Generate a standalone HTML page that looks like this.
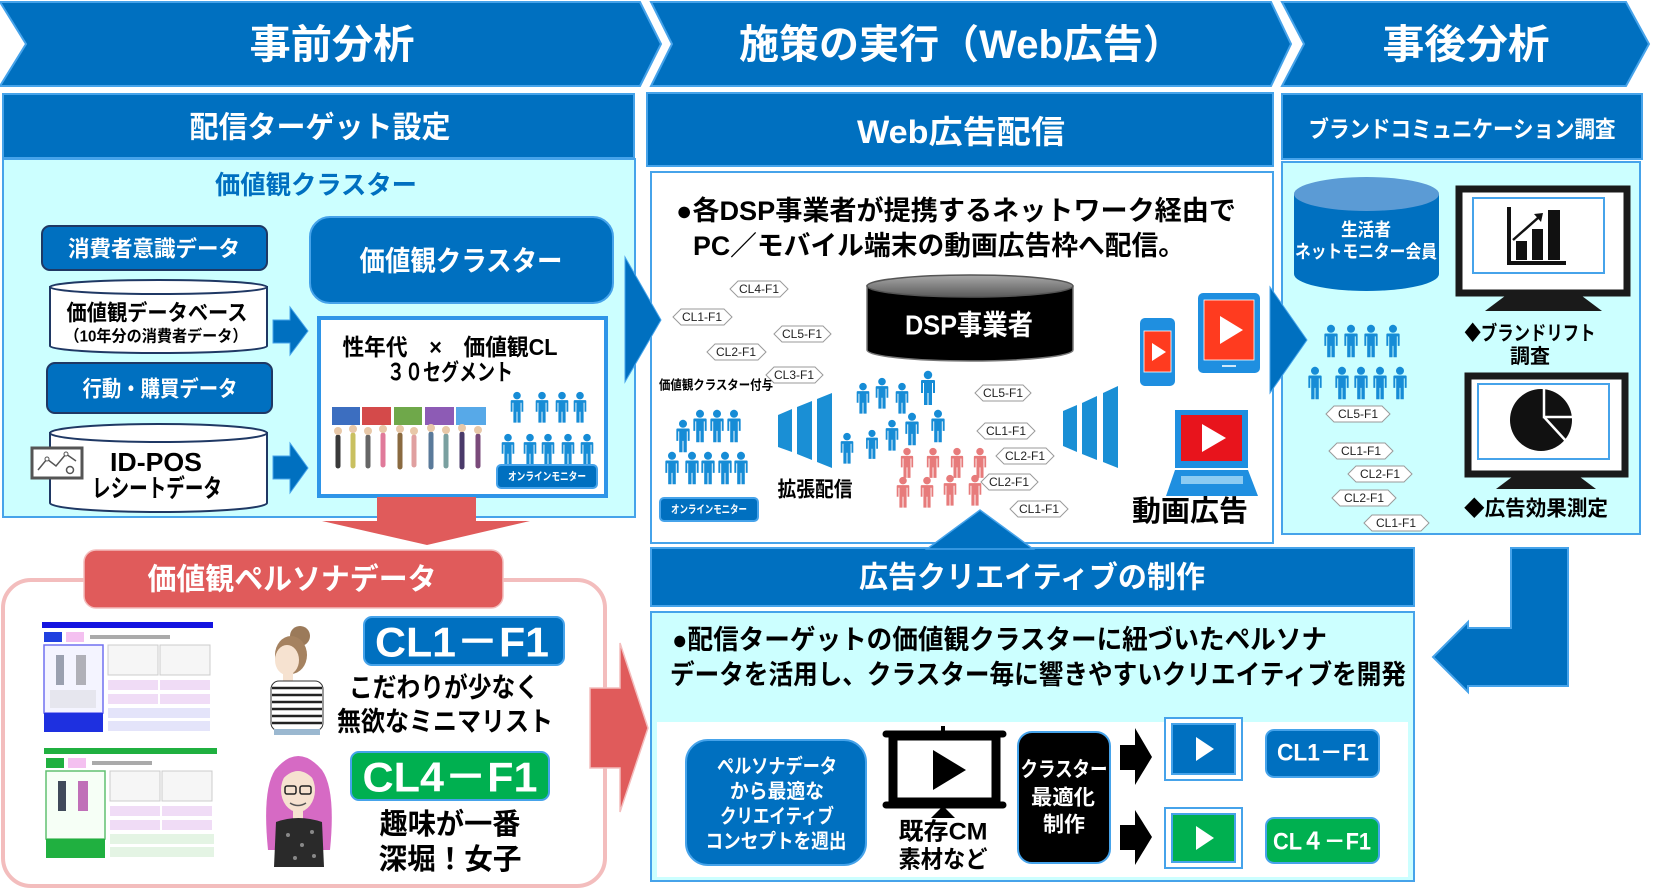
<!DOCTYPE html>
<html><head><meta charset="utf-8">
<style>
html,body{margin:0;padding:0;background:#fff;}
svg{display:block;}
text{font-family:"Liberation Sans","Noto Sans CJK JP",sans-serif;font-weight:bold;}
.t{font-weight:normal;font-size:12px;fill:#222;}
</style></head><body>
<svg width="1653" height="895" viewBox="0 0 1653 895" xmlns="http://www.w3.org/2000/svg">
<defs>
<path id="p" d="M-6,9 h12 a1,1 0 0 1 1,1 v12 h-2 v-10 h-1 v22 h-3.5 v-12 h-1 v12 h-3.5 v-22 h-1 v10 h-2 v-12 a1,1 0 0 1 1,-1 z M0,-0.2 a4.2,4.2 0 1 1 -0.01,0 z"/>
<linearGradient id="dg" x1="0" y1="0" x2="0" y2="1"><stop offset="0" stop-color="#a8a8a8"/><stop offset="1" stop-color="#5a5a5a"/></linearGradient>
</defs>

<!-- chevrons -->
<g fill="#0070C0" stroke="#46A3EA" stroke-width="2">
<polygon points="0,2 640,2 661,44 640,86 0,86 26,44"/>
<polygon points="651,2 1271,2 1291,44 1271,86 651,86 672,44"/>
<polygon points="1282,2 1626,2 1649,44 1626,86 1282,86 1304,44"/>
</g>
<g fill="#fff" font-size="40" text-anchor="middle" dominant-baseline="central">
<text x="332" y="45" textLength="165" lengthAdjust="spacingAndGlyphs">事前分析</text>
<text x="961" y="45" textLength="444" lengthAdjust="spacingAndGlyphs">施策の実行（Web広告）</text>
<text x="1466" y="45" textLength="167" lengthAdjust="spacingAndGlyphs">事後分析</text>
</g>

<!-- headers and panels -->
<g stroke="#46A3EA" stroke-width="2">
<rect x="3" y="94" width="631" height="64" fill="#0070C0"/>
<rect x="3" y="159" width="632" height="358" fill="#CCFFFF"/>
<rect x="647" y="93" width="626" height="73" fill="#0070C0"/>
<rect x="651" y="172" width="622" height="371" fill="#fff"/>
<rect x="1282" y="94" width="360" height="65" fill="#0070C0"/>
<rect x="1282" y="162" width="358" height="372" fill="#CCFFFF"/>
<rect x="651" y="548" width="763" height="58" fill="#0070C0"/>
<rect x="651" y="612" width="763" height="269" fill="#CCFFFF"/>
</g>
<rect x="657" y="722" width="751" height="155" fill="#fff"/>

<g fill="#fff" text-anchor="middle" dominant-baseline="central">
<text x="320" y="128" font-size="30" textLength="261" lengthAdjust="spacingAndGlyphs">配信ターゲット設定</text>
<text x="961" y="132" font-size="32" textLength="208" lengthAdjust="spacingAndGlyphs">Web広告配信</text>
<text x="1462" y="129" font-size="23" textLength="307" lengthAdjust="spacingAndGlyphs">ブランドコミュニケーション調査</text>
<text x="1032" y="578" font-size="30" textLength="346" lengthAdjust="spacingAndGlyphs">広告クリエイティブの制作</text>
</g>

<!-- LEFT PANEL -->
<text x="316" y="185" font-size="26" fill="#0070C0" text-anchor="middle" dominant-baseline="central" textLength="202" lengthAdjust="spacingAndGlyphs">価値観クラスター</text>
<rect x="42" y="226" width="225" height="44" rx="8" fill="#0070C0" stroke="#1F3864" stroke-width="2"/>
<text x="154" y="249" font-size="22" fill="#fff" text-anchor="middle" dominant-baseline="central" textLength="172" lengthAdjust="spacingAndGlyphs">消費者意識データ</text>
<path d="M50,287 V346 A108.5,7 0 0 0 267,346 V287 Z" fill="#fff" stroke="#1F3864" stroke-width="2"/>
<ellipse cx="158.5" cy="287" rx="108.5" ry="7" fill="#fff" stroke="#1F3864" stroke-width="2"/>
<text x="157" y="313" font-size="22" fill="#000" text-anchor="middle" dominant-baseline="central" textLength="181" lengthAdjust="spacingAndGlyphs">価値観データベース</text>
<text x="156" y="337" font-size="16" fill="#000" text-anchor="middle" dominant-baseline="central" textLength="183" lengthAdjust="spacingAndGlyphs">（10年分の消費者データ）</text>
<rect x="47" y="363" width="225" height="50" rx="8" fill="#0070C0" stroke="#1F3864" stroke-width="2"/>
<text x="160" y="389" font-size="22" fill="#fff" text-anchor="middle" dominant-baseline="central" textLength="155" lengthAdjust="spacingAndGlyphs">行動・購買データ</text>
<path d="M50,433 V503 A108.5,9 0 0 0 267,503 V433 Z" fill="#fff" stroke="#1F3864" stroke-width="2"/>
<ellipse cx="158.5" cy="433" rx="108.5" ry="9" fill="#fff" stroke="#1F3864" stroke-width="2"/>
<text x="156" y="462" font-size="26" fill="#000" text-anchor="middle" dominant-baseline="central" textLength="92" lengthAdjust="spacingAndGlyphs">ID-POS</text>
<text x="157" y="489" font-size="25" fill="#000" text-anchor="middle" dominant-baseline="central" textLength="130" lengthAdjust="spacingAndGlyphs">レシートデータ</text>
<!-- idpos icon -->
<rect x="32" y="448" width="50" height="30" fill="#fff" stroke="#555" stroke-width="3"/>
<polyline points="38,470 47,459 56,466 66,454 76,461" fill="none" stroke="#555" stroke-width="1.5"/>
<circle cx="47" cy="459" r="2" fill="#fff" stroke="#555"/><circle cx="66" cy="454" r="2" fill="#fff" stroke="#555"/>
<circle cx="70" cy="470" r="3.5" fill="none" stroke="#555" stroke-width="1.5"/>
<!-- small arrows -->
<g fill="#0070C0" stroke="#46A3EA" stroke-width="1">
<polygon points="273,320 290,320 290,307 308,331 290,355 290,343 273,343"/>
<polygon points="273,456 290,456 290,443 308,468 290,493 290,479 273,479"/>
</g>
<rect x="310" y="217" width="303" height="86" rx="20" fill="#0070C0" stroke="#46A3EA" stroke-width="2"/>
<text x="461" y="261" font-size="28" fill="#fff" text-anchor="middle" dominant-baseline="central" textLength="203" lengthAdjust="spacingAndGlyphs">価値観クラスター</text>
<rect x="319" y="318" width="287" height="178" fill="#fff" stroke="#2E95E8" stroke-width="4"/>
<text x="450" y="347" font-size="23" fill="#000" text-anchor="middle" dominant-baseline="central" textLength="215" lengthAdjust="spacingAndGlyphs">性年代　×　価値観CL</text>
<text x="450" y="372" font-size="23" fill="#000" text-anchor="middle" dominant-baseline="central" textLength="126" lengthAdjust="spacingAndGlyphs">３０セグメント</text>
<!-- cluster images -->
<rect x="332" y="407" width="28" height="18" fill="#3C6EC0"/>
<rect x="362" y="407" width="29" height="18" fill="#D44A4A"/>
<rect x="394" y="407" width="28" height="18" fill="#6FA84A"/>
<rect x="425" y="407" width="29" height="18" fill="#8D5BB5"/>
<rect x="456" y="407" width="30" height="18" fill="#57A9E8"/>
<g stroke-linecap="round">
<g stroke-width="5">
<line x1="338" y1="437" x2="338" y2="466" stroke="#3a3a3a"/><line x1="353" y1="435" x2="353" y2="466" stroke="#c9c060"/>
<line x1="368" y1="437" x2="368" y2="466" stroke="#666"/><line x1="383" y1="435" x2="383" y2="465" stroke="#e07a9a"/>
<line x1="400" y1="435" x2="400" y2="467" stroke="#8a6a40"/><line x1="414" y1="437" x2="414" y2="465" stroke="#e0a0a0"/>
<line x1="431" y1="434" x2="431" y2="467" stroke="#5a7a9a"/><line x1="446" y1="436" x2="446" y2="466" stroke="#7aa0a0"/>
<line x1="462" y1="434" x2="462" y2="467" stroke="#4a3a6a"/><line x1="478" y1="436" x2="478" y2="466" stroke="#7a4a7a"/>
</g>
<g fill="#e8c8a8"><circle cx="338" cy="431" r="4"/><circle cx="353" cy="429" r="4"/><circle cx="368" cy="431" r="4"/><circle cx="383" cy="429" r="4"/><circle cx="400" cy="429" r="4"/><circle cx="414" cy="431" r="4"/><circle cx="431" cy="428" r="4"/><circle cx="446" cy="430" r="4"/><circle cx="462" cy="428" r="4"/><circle cx="478" cy="430" r="4"/></g>
</g>
<g fill="#168CD6">
<use href="#p" transform="translate(517,392) scale(0.9)"/><use href="#p" transform="translate(542,392) scale(0.9)"/><use href="#p" transform="translate(562,392) scale(0.9)"/><use href="#p" transform="translate(580,392) scale(0.9)"/>
<use href="#p" transform="translate(508,434) scale(0.9)"/><use href="#p" transform="translate(530,434) scale(0.9)"/><use href="#p" transform="translate(548,434) scale(0.9)"/><use href="#p" transform="translate(568,434) scale(0.9)"/><use href="#p" transform="translate(587,434) scale(0.9)"/>
</g>
<rect x="497" y="465" width="100" height="23" rx="4" fill="#0070C0" stroke="#46A3EA" stroke-width="2"/>
<text x="547" y="477" font-size="11" fill="#fff" text-anchor="middle" dominant-baseline="central" textLength="78" lengthAdjust="spacingAndGlyphs">オンラインモニター</text>

<!-- big arrows -->
<polygon points="625,257 625,382 661,320" fill="#0070C0" stroke="#46A3EA" stroke-width="1"/>
<polygon points="1270,287 1270,393 1307,340" fill="#0070C0" stroke="#46A3EA" stroke-width="1"/>

<!-- red arrows -->
<polygon points="377,497 476,497 476,521 530,521 427,545 322,521 377,521" fill="#E05B5B"/>

<!-- BOTTOM LEFT -->
<rect x="3" y="580" width="602" height="306" rx="28" fill="#fff" stroke="#F3BDBD" stroke-width="4"/>
<rect x="84" y="550" width="419" height="58" rx="12" fill="#E05B5B" stroke="#F3BDBD" stroke-width="1.5"/>
<text x="292" y="580" font-size="30" fill="#fff" text-anchor="middle" dominant-baseline="central" textLength="289" lengthAdjust="spacingAndGlyphs">価値観ペルソナデータ</text>
<polygon points="590,688 620,688 620,643 648,728 620,812 620,768 590,768" fill="#E05B5B" stroke="#F3BDBD" stroke-width="1.5"/>
<!-- doc 1 -->
<rect x="42" y="622" width="171" height="110" fill="#fff"/>
<rect x="42" y="622" width="171" height="6" fill="#1414E0"/>
<rect x="44" y="632" width="18" height="10" fill="#2040E0"/><rect x="66" y="632" width="18" height="10" fill="#F4C0F0"/>
<rect x="90" y="635" width="80" height="4" fill="#aaa"/>
<rect x="44" y="645" width="59" height="68" fill="#F4F4FF" stroke="#7070F0" stroke-width="1.5"/>
<rect x="56" y="655" width="8" height="30" fill="#9aa0b0"/><rect x="76" y="655" width="10" height="30" fill="#b0b0b8"/>
<rect x="50" y="690" width="46" height="18" fill="#e6e6ee"/>
<rect x="44" y="713" width="59" height="19" fill="#1E30E0"/>
<rect x="108" y="645" width="50" height="30" fill="#f6f6f6" stroke="#ccc"/><rect x="160" y="645" width="50" height="30" fill="#f6f6f6" stroke="#ccc"/>
<rect x="108" y="680" width="50" height="10" fill="#F0DCF6"/><rect x="160" y="680" width="50" height="10" fill="#F0DCF6"/>
<rect x="108" y="694" width="50" height="10" fill="#F0DCF6"/><rect x="160" y="694" width="50" height="10" fill="#F0DCF6"/>
<rect x="108" y="708" width="102" height="10" fill="#E4E4FA"/><rect x="108" y="721" width="102" height="10" fill="#E4E4FA"/>
<!-- doc 2 -->
<rect x="44" y="748" width="173" height="110" fill="#fff"/>
<rect x="44" y="748" width="173" height="6" fill="#20B040"/>
<rect x="46" y="758" width="18" height="10" fill="#20B040"/><rect x="68" y="758" width="18" height="10" fill="#F4C0F0"/>
<rect x="92" y="761" width="60" height="4" fill="#aaa"/>
<rect x="46" y="771" width="59" height="68" fill="#F6FFF6" stroke="#60C070" stroke-width="1.5"/>
<rect x="58" y="781" width="8" height="30" fill="#404a5a"/><rect x="78" y="781" width="10" height="30" fill="#c070b8"/>
<rect x="46" y="839" width="59" height="19" fill="#20B040"/>
<rect x="110" y="771" width="50" height="30" fill="#f6f6f6" stroke="#ccc"/><rect x="162" y="771" width="50" height="30" fill="#f6f6f6" stroke="#ccc"/>
<rect x="110" y="806" width="50" height="10" fill="#F0DCF6"/><rect x="162" y="806" width="50" height="10" fill="#F0DCF6"/>
<rect x="110" y="820" width="50" height="10" fill="#F0DCF6"/><rect x="162" y="820" width="50" height="10" fill="#F0DCF6"/>
<rect x="110" y="834" width="104" height="10" fill="#E4F4E4"/><rect x="110" y="847" width="104" height="10" fill="#E4F4E4"/>
<!-- woman 1 -->
<circle cx="300" cy="636" r="10" fill="#9B7A5A"/>
<ellipse cx="291" cy="655" rx="16" ry="19" fill="#A58260"/>
<ellipse cx="287" cy="660" rx="12" ry="15" fill="#F6E2D0"/>
<rect x="283" y="672" width="10" height="10" fill="#F6E2D0"/>
<rect x="271" y="681" width="52" height="50" rx="8" fill="#fff" stroke="#333" stroke-width="1"/>
<g stroke="#222" stroke-width="2.5"><line x1="272" y1="688" x2="322" y2="688"/><line x1="272" y1="695" x2="322" y2="695"/><line x1="272" y1="702" x2="322" y2="702"/><line x1="272" y1="709" x2="322" y2="709"/><line x1="272" y1="716" x2="322" y2="716"/><line x1="272" y1="723" x2="322" y2="723"/></g>
<rect x="274" y="729" width="46" height="6" fill="#9bb8d0"/>
<!-- woman 2 -->
<path d="M268,850 Q262,790 275,770 Q298,742 322,770 Q336,790 330,850 Z" fill="#D66AC4"/>
<ellipse cx="298" cy="790" rx="17" ry="22" fill="#F6E2D0"/>
<path d="M280,782 Q298,760 316,782 L316,770 Q298,752 280,770 Z" fill="#D66AC4"/>
<g fill="none" stroke="#222" stroke-width="1.5"><rect x="285" y="786" width="11" height="8" rx="2"/><rect x="300" y="786" width="11" height="8" rx="2"/></g>
<path d="M290,803 Q298,808 306,803" fill="none" stroke="#555" stroke-width="1.5"/>
<rect x="293" y="810" width="10" height="10" fill="#F6E2D0"/>
<path d="M276,822 Q298,814 322,822 L324,867 L274,867 Z" fill="#2a2a2a"/>
<g fill="#888"><circle cx="288" cy="835" r="2"/><circle cx="302" cy="845" r="2"/><circle cx="312" cy="832" r="2"/><circle cx="295" cy="858" r="2"/><circle cx="314" cy="856" r="2"/></g>
<!-- persona labels -->
<rect x="364" y="617" width="200" height="48" rx="8" fill="#0070C0" stroke="#46A3EA" stroke-width="2"/>
<text x="462" y="642" font-size="42" fill="#fff" text-anchor="middle" dominant-baseline="central" textLength="174" lengthAdjust="spacingAndGlyphs">CL1－F1</text>
<text x="444" y="688" font-size="27" fill="#000" text-anchor="middle" dominant-baseline="central" textLength="190" lengthAdjust="spacingAndGlyphs">こだわりが少なく</text>
<text x="445" y="722" font-size="27" fill="#000" text-anchor="middle" dominant-baseline="central" textLength="216" lengthAdjust="spacingAndGlyphs">無欲なミニマリスト</text>
<rect x="351" y="752" width="198" height="48" rx="8" fill="#00B050" stroke="#46A3EA" stroke-width="2"/>
<text x="450" y="777" font-size="42" fill="#fff" text-anchor="middle" dominant-baseline="central" textLength="175" lengthAdjust="spacingAndGlyphs">CL4－F1</text>
<text x="450" y="825" font-size="29" fill="#000" text-anchor="middle" dominant-baseline="central" textLength="141" lengthAdjust="spacingAndGlyphs">趣味が一番</text>
<text x="450" y="860" font-size="29" fill="#000" text-anchor="middle" dominant-baseline="central" textLength="143" lengthAdjust="spacingAndGlyphs">深堀！女子</text>

<!-- MIDDLE PANEL -->
<text x="676" y="211" font-size="27" fill="#000" dominant-baseline="central" textLength="560" lengthAdjust="spacingAndGlyphs">●各DSP事業者が提携するネットワーク経由で</text>
<text x="693" y="246" font-size="27" fill="#000" dominant-baseline="central" textLength="492" lengthAdjust="spacingAndGlyphs">PC／モバイル端末の動画広告枠へ配信。</text>
<!-- DSP cylinder -->
<path d="M867,286 V350 A103,11 0 0 0 1073,350 V286 Z" fill="#000" stroke="#777" stroke-width="1.5"/>
<ellipse cx="970" cy="286" rx="103" ry="11" fill="url(#dg)" stroke="#555" stroke-width="1.5"/>
<text x="969" y="325" font-size="28" fill="#fff" text-anchor="middle" dominant-baseline="central" textLength="128" lengthAdjust="spacingAndGlyphs">DSP事業者</text>
<!-- tags -->
<g fill="#fff" stroke="#9a9a9a" stroke-width="1">
<polygon points="730,289 738,281 780,281 788,289 780,297 738,297"/>
<polygon points="673,317 681,309 724,309 732,317 724,325 681,325"/>
<polygon points="774,334 782,326 823,326 831,334 823,342 782,342"/>
<polygon points="707,352 715,344 758,344 766,352 758,360 715,360"/>
<polygon points="766,375 774,367 815,367 823,375 815,383 774,383"/>
<polygon points="975,393 983,385 1023,385 1031,393 1023,401 983,401"/>
<polygon points="977,431 985,423 1027,423 1035,431 1027,439 985,439"/>
<polygon points="996,456 1004,448 1046,448 1054,456 1046,464 1004,464"/>
<polygon points="981,482 989,474 1030,474 1038,482 1030,490 989,490"/>
<polygon points="1010,509 1018,501 1060,501 1068,509 1060,517 1018,517"/>
<polygon points="1326,414 1334,406 1382,406 1390,414 1382,422 1334,422"/>
<polygon points="1329,451 1337,443 1385,443 1393,451 1385,459 1337,459"/>
<polygon points="1348,474 1356,466 1404,466 1412,474 1404,482 1356,482"/>
<polygon points="1332,498 1340,490 1388,490 1396,498 1388,506 1340,506"/>
<polygon points="1364,523 1372,515 1421,515 1429,523 1421,531 1372,531"/>
</g>
<g text-anchor="middle" dominant-baseline="central">
<text class="t" x="759" y="289">CL4-F1</text>
<text class="t" x="702" y="317">CL1-F1</text>
<text class="t" x="802" y="334">CL5-F1</text>
<text class="t" x="736" y="352">CL2-F1</text>
<text class="t" x="794" y="375">CL3-F1</text>
<text class="t" x="1003" y="393">CL5-F1</text>
<text class="t" x="1006" y="431">CL1-F1</text>
<text class="t" x="1025" y="456">CL2-F1</text>
<text class="t" x="1009" y="482">CL2-F1</text>
<text class="t" x="1039" y="509">CL1-F1</text>
<text class="t" x="1358" y="414">CL5-F1</text>
<text class="t" x="1361" y="451">CL1-F1</text>
<text class="t" x="1380" y="474">CL2-F1</text>
<text class="t" x="1364" y="498">CL2-F1</text>
<text class="t" x="1396" y="523">CL1-F1</text>
</g>
<text x="716" y="385" font-size="13" fill="#000" text-anchor="middle" dominant-baseline="central" textLength="114" lengthAdjust="spacingAndGlyphs">価値観クラスター付与</text>
<!-- people -->
<g fill="#168CD6">
<use href="#p" transform="translate(683,420) scale(0.95)"/><use href="#p" transform="translate(700,410) scale(0.95)"/><use href="#p" transform="translate(717,410) scale(0.95)"/><use href="#p" transform="translate(734,410) scale(0.95)"/>
<use href="#p" transform="translate(672,452) scale(0.95)"/><use href="#p" transform="translate(692,452) scale(0.95)"/><use href="#p" transform="translate(708,452) scale(0.95)"/><use href="#p" transform="translate(725,452) scale(0.95)"/><use href="#p" transform="translate(741,452) scale(0.95)"/>
<use href="#p" transform="translate(863,383) scale(0.9)"/><use href="#p" transform="translate(882,378) scale(0.9)"/><use href="#p" transform="translate(902,383) scale(0.9)"/><use href="#p" transform="translate(928,371) scale(1.0)"/>
<use href="#p" transform="translate(847,433) scale(0.9)"/><use href="#p" transform="translate(872,430) scale(0.85)"/><use href="#p" transform="translate(892,420) scale(0.9)"/><use href="#p" transform="translate(912,413) scale(0.95)"/><use href="#p" transform="translate(938,410) scale(0.95)"/>
<use href="#p" transform="translate(1331,325) scale(0.95)"/><use href="#p" transform="translate(1351,325) scale(0.95)"/><use href="#p" transform="translate(1371,325) scale(0.95)"/><use href="#p" transform="translate(1393,325) scale(0.95)"/>
<use href="#p" transform="translate(1315,367) scale(0.95)"/><use href="#p" transform="translate(1342,367) scale(0.95)"/><use href="#p" transform="translate(1361,367) scale(0.95)"/><use href="#p" transform="translate(1380,367) scale(0.95)"/><use href="#p" transform="translate(1400,367) scale(0.95)"/>
</g>
<g fill="#E77B7B">
<use href="#p" transform="translate(907,448) scale(0.88)"/><use href="#p" transform="translate(933,448) scale(0.88)"/><use href="#p" transform="translate(957,448) scale(0.88)"/><use href="#p" transform="translate(980,448) scale(0.88)"/>
<use href="#p" transform="translate(903,477) scale(0.9)"/><use href="#p" transform="translate(927,477) scale(0.9)"/><use href="#p" transform="translate(950,475) scale(0.9)"/><use href="#p" transform="translate(975,475) scale(0.9)"/>
</g>
<rect x="660" y="498" width="98" height="23" rx="4" fill="#0070C0" stroke="#46A3EA" stroke-width="2"/>
<text x="709" y="510" font-size="11" fill="#fff" text-anchor="middle" dominant-baseline="central" textLength="76" lengthAdjust="spacingAndGlyphs">オンラインモニター</text>
<!-- speakers -->
<g fill="#1A8FD5">
<polygon points="778,415 792,409 792,452 778,447"/>
<polygon points="797,407 812,401 812,460 797,454"/>
<polygon points="817,399 832,393 832,468 817,462"/>
<polygon points="1063,411 1077,405 1077,452 1063,446"/>
<polygon points="1082,403 1097,396 1097,460 1082,454"/>
<polygon points="1103,393 1118,386 1118,468 1103,462"/>
</g>
<text x="815" y="490" font-size="21" fill="#000" text-anchor="middle" dominant-baseline="central" textLength="75" lengthAdjust="spacingAndGlyphs">拡張配信</text>
<!-- devices -->
<rect x="1140" y="318" width="35" height="68" rx="5" fill="#1F8FE0"/>
<rect x="1144" y="331" width="27" height="41" fill="#FF3B1F" stroke="#fff" stroke-width="0.8"/>
<polygon points="1152,343 1152,361 1166,352" fill="#fff"/>
<rect x="1198" y="293" width="62" height="80" rx="5" fill="#1F8FE0"/>
<rect x="1204" y="300" width="50" height="60" fill="#FF3B1F" stroke="#fff" stroke-width="0.8"/>
<polygon points="1220,316 1220,344 1243,330" fill="#fff"/>
<rect x="1222" y="365" width="14" height="2" fill="#cfe8fa"/>
<rect x="1175" y="410" width="73" height="58" fill="#1F8FE0"/>
<rect x="1181" y="415" width="61" height="46" fill="#E8141C"/>
<polygon points="1202,424 1202,452 1226,438" fill="#fff"/>
<polygon points="1175,470 1248,470 1258,496 1166,496" fill="#1F8FE0"/>
<rect x="1181" y="476" width="62" height="8" fill="#8CCBF2"/>
<text x="1190" y="512" font-size="29" fill="#000" text-anchor="middle" dominant-baseline="central" textLength="116" lengthAdjust="spacingAndGlyphs">動画広告</text>
<!-- up triangle -->
<polygon points="927,549 1033,549 980,510" fill="#0070C0" stroke="#46A3EA" stroke-width="1.5"/>

<!-- RIGHT PANEL -->
<path d="M1294,194 V274 A72.5,17 0 0 0 1439,274 V194 Z" fill="#0070C0"/>
<ellipse cx="1366.5" cy="194" rx="72.5" ry="17" fill="#5B9BD5"/>
<text x="1366" y="230" font-size="18" fill="#fff" text-anchor="middle" dominant-baseline="central" textLength="50" lengthAdjust="spacingAndGlyphs">生活者</text>
<text x="1366" y="252" font-size="18" fill="#fff" text-anchor="middle" dominant-baseline="central" textLength="142" lengthAdjust="spacingAndGlyphs">ネットモニター会員</text>
<!-- monitor 1 -->
<rect x="1459" y="189" width="168" height="104" fill="#fff" stroke="#1a1a1a" stroke-width="7"/>
<rect x="1473" y="198" width="131" height="75" fill="#fff" stroke="#46A3EA" stroke-width="2"/>
<polygon points="1505,296 1582,296 1602,311 1485,311" fill="#1a1a1a"/>
<path d="M1509,207 V263 H1566" fill="none" stroke="#111" stroke-width="4"/>
<rect x="1516" y="241" width="11" height="19" fill="#111"/>
<rect x="1532" y="229" width="11" height="31" fill="#111"/>
<rect x="1548" y="210" width="12" height="50" fill="#111"/>
<line x1="1513" y1="240" x2="1539" y2="217" stroke="#111" stroke-width="2.5"/>
<polygon points="1534,214 1543,213 1541,222" fill="#111"/>
<text x="1530" y="334" font-size="20" fill="#000" text-anchor="middle" dominant-baseline="central" textLength="131" lengthAdjust="spacingAndGlyphs">◆ブランドリフト</text>
<text x="1530" y="357" font-size="20" fill="#000" text-anchor="middle" dominant-baseline="central" textLength="40" lengthAdjust="spacingAndGlyphs">調査</text>
<!-- monitor 2 -->
<rect x="1468" y="376" width="157" height="98" fill="#fff" stroke="#1a1a1a" stroke-width="7"/>
<rect x="1478" y="384" width="131" height="75" fill="#fff" stroke="#46A3EA" stroke-width="2"/>
<polygon points="1512,477 1580,477 1596,489 1496,489" fill="#1a1a1a"/>
<circle cx="1541" cy="420" r="31" fill="#111"/>
<polyline points="1544,389 1544,417 1574,417" fill="none" stroke="#fff" stroke-width="2.5"/>
<line x1="1544" y1="417" x2="1566" y2="441" stroke="#fff" stroke-width="2.5"/>
<text x="1536" y="509" font-size="21" fill="#000" text-anchor="middle" dominant-baseline="central" textLength="144" lengthAdjust="spacingAndGlyphs">◆広告効果測定</text>

<!-- BOTTOM MIDDLE -->
<text x="672" y="640" font-size="27" fill="#000" dominant-baseline="central" textLength="655" lengthAdjust="spacingAndGlyphs">●配信ターゲットの価値観クラスターに紐づいたペルソナ</text>
<text x="670" y="675" font-size="27" fill="#000" dominant-baseline="central" textLength="736" lengthAdjust="spacingAndGlyphs">データを活用し、クラスター毎に響きやすいクリエイティブを開発</text>
<rect x="686" y="740" width="180" height="125" rx="22" fill="#0070C0" stroke="#46A3EA" stroke-width="2"/>
<g fill="#fff" font-size="20" text-anchor="middle" dominant-baseline="central">
<text x="777" y="767" textLength="120" lengthAdjust="spacingAndGlyphs">ペルソナデータ</text>
<text x="777" y="792" textLength="94" lengthAdjust="spacingAndGlyphs">から最適な</text>
<text x="777" y="817" textLength="114" lengthAdjust="spacingAndGlyphs">クリエイティブ</text>
<text x="776" y="842" textLength="141" lengthAdjust="spacingAndGlyphs">コンセプトを週出</text>
</g>
<!-- screen icon -->
<line x1="943" y1="726" x2="943" y2="734" stroke="#000" stroke-width="4"/>
<rect x="893" y="736" width="103" height="66" fill="#fff" stroke="#000" stroke-width="9"/>
<line x1="886" y1="734" x2="1003" y2="734" stroke="#000" stroke-width="7" stroke-linecap="round"/>
<line x1="886" y1="805" x2="1003" y2="805" stroke="#000" stroke-width="7" stroke-linecap="round"/>
<polygon points="933,750 933,790 966,770" fill="#000"/>
<polygon points="943,806 931,818 955,818" fill="#000"/>
<text x="943" y="832" font-size="24" fill="#000" text-anchor="middle" dominant-baseline="central" textLength="89" lengthAdjust="spacingAndGlyphs">既存CM</text>
<text x="943" y="860" font-size="24" fill="#000" text-anchor="middle" dominant-baseline="central" textLength="89" lengthAdjust="spacingAndGlyphs">素材など</text>
<rect x="1018" y="732" width="92" height="131" rx="14" fill="#000" stroke="#46A3EA" stroke-width="2"/>
<g fill="#fff" font-size="21" text-anchor="middle" dominant-baseline="central">
<text x="1064" y="770" textLength="87" lengthAdjust="spacingAndGlyphs">クラスター</text>
<text x="1063" y="798" textLength="64" lengthAdjust="spacingAndGlyphs">最適化</text>
<text x="1064" y="825" textLength="42" lengthAdjust="spacingAndGlyphs">制作</text>
</g>
<polygon points="1120,745 1135,745 1135,728 1152,757 1135,785 1135,770 1120,770" fill="#000"/>
<polygon points="1120,825 1135,825 1135,810 1152,837 1135,865 1135,850 1120,850" fill="#000"/>
<rect x="1165" y="718" width="77" height="62" fill="#fff" stroke="#46A3EA" stroke-width="2"/>
<rect x="1172" y="724" width="63" height="50" fill="#0070C0" stroke="#46A3EA" stroke-width="2"/>
<polygon points="1196,737 1196,761 1214,749" fill="#fff"/>
<rect x="1165" y="808" width="77" height="60" fill="#fff" stroke="#46A3EA" stroke-width="2"/>
<rect x="1172" y="814" width="63" height="48" fill="#00B050" stroke="#46A3EA" stroke-width="2"/>
<polygon points="1196,826 1196,850 1214,838" fill="#fff"/>
<rect x="1266" y="730" width="113" height="47" rx="8" fill="#0070C0" stroke="#46A3EA" stroke-width="2"/>
<text x="1323" y="753" font-size="24" fill="#fff" text-anchor="middle" dominant-baseline="central" textLength="92" lengthAdjust="spacingAndGlyphs">CL1－F1</text>
<rect x="1266" y="818" width="113" height="45" rx="8" fill="#00B050" stroke="#46A3EA" stroke-width="2"/>
<text x="1322" y="842" font-size="24" fill="#fff" text-anchor="middle" dominant-baseline="central" textLength="98" lengthAdjust="spacingAndGlyphs">CL４－F1</text>

<!-- L arrow -->
<polygon points="1511,548 1568,548 1568,686 1468,686 1468,692 1433,657 1468,622 1468,628 1511,628" fill="#0070C0" stroke="#46A3EA" stroke-width="2"/>
</svg>
</body></html>
